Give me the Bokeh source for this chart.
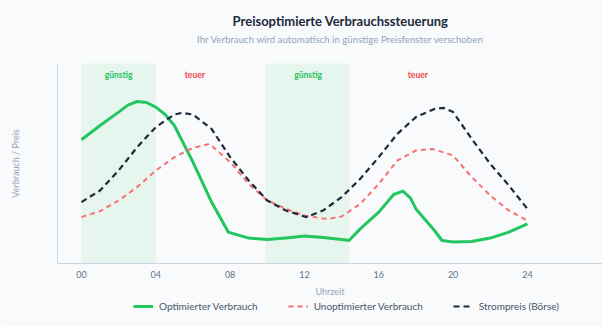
from bokeh.plotting import figure
from bokeh.models import Legend, LegendItem, Range1d, FixedTicker
from bokeh.core.properties import value
from bokeh.embed import file_html
from bokeh.resources import INLINE

# ---- data ----
tick_hours = [0, 4, 8, 12, 16, 20, 24]
tick_labels = ["00", "04", "08", "12", "16", "20", "24"]

opt_x = [0, 1, 2, 2.5, 3, 3.5, 4, 4.5, 5, 6, 7, 7.9, 9, 10, 11, 12, 13, 14, 14.4, 15, 16, 16.8, 17.3, 17.7, 18, 19, 19.4, 20, 21, 22, 23, 24]
opt_y = [61.9, 69, 75.7, 79.2, 81, 80.5, 78.2, 74.5, 69, 50.7, 30.7, 15.7, 12.7, 12, 12.8, 13.8, 13, 12, 11.5, 17.3, 25.7, 34.5, 36.2, 32.8, 27.3, 16.5, 11.5, 10.7, 11, 12.7, 15.7, 19.8]

unopt_x = [0, 1, 2, 3, 4, 5, 6, 6.9, 8, 9, 10, 11, 12, 13, 13.3, 14, 15, 16, 17, 18, 18.8, 19, 20, 21, 22, 23, 24]
unopt_y = [23.2, 26.2, 31.5, 38.2, 46.5, 53.2, 57.8, 59.8, 50.7, 39.8, 31.5, 27.3, 24, 22.5, 22.3, 23.5, 29.8, 39.8, 51.5, 56.5, 57.2, 57, 54, 43.2, 34, 26.5, 21.5]

price_x = [0, 1, 2, 3, 4, 5, 5.4, 6, 7, 8, 9, 10, 11, 12, 12.1, 13, 14, 15, 16, 17, 18, 19, 19.5, 20, 21, 22, 23, 24]
price_y = [30.7, 36.5, 46.5, 58.2, 68.2, 74.5, 75.3, 74.5, 67.3, 53.2, 41.5, 31.5, 26.5, 23.5, 23.2, 26.5, 33.2, 42.3, 53.2, 64.8, 73.2, 77.3, 77.8, 75.7, 62.3, 49.8, 39, 27.3]

cheap_start = [0, 9.9]
cheap_end = [4, 14.4]
zone_labels = ["günstig", "teuer", "günstig", "teuer"]
zone_x = [2, 6.1, 12.2, 18.1]
zone_kind = ["cheap", "expensive", "cheap", "expensive"]

series_names = ["Optimierter Verbrauch", "Unoptimierter Verbrauch", "Strompreis (Börse)"]
title_text = "Preisoptimierte Verbrauchssteuerung"
subtitle_text = "Ihr Verbrauch wird automatisch in günstige Preisfenster verschoben"

FONT = "Lato"
BG = "#f8fafc"
Y_MAX = 100            # top of the plotted value scale
Y_VIEW_TOP = 131.5     # head room in which the titles sit
Y_VIEW_BOTTOM = -31.5  # foot room for axis labels and legend

p = figure(frame_width=545, frame_height=326, x_range=Range1d(-1.29, 28.04),
           y_range=Range1d(Y_VIEW_BOTTOM, Y_VIEW_TOP),
           output_backend="svg", toolbar_location=None,
           min_border_left=57, min_border_right=0, min_border_top=0, min_border_bottom=0,
           background_fill_color=BG, border_fill_color=BG, outline_line_color=None)

p.xgrid.grid_line_color = None
p.ygrid.grid_line_color = None

# cheap windows
p.quad(left=cheap_start, right=cheap_end, bottom=0, top=Y_MAX,
       fill_color="#22c55e", fill_alpha=0.08, line_color=None)

zone_colors = ["#22c55e" if k == "cheap" else "#ef4444" for k in zone_kind]
p.text(x=zone_x, y=[94.5] * 4, text=zone_labels, text_color=zone_colors,
       text_font=value(FONT), text_font_size="8.5px", text_font_style="bold",
       text_align="center", text_baseline="middle")

r_opt = p.line(opt_x, opt_y, line_color="#22c55e", line_width=3, line_join="round")
r_un = p.line(unopt_x, unopt_y, line_color="#f87171", line_width=2, line_dash="5 4")
r_pr = p.line(price_x, price_y, line_color="#1e293b", line_width=2.2, line_dash="6 4")

# titles
p.text(x=[13.94], y=[121.5], text=[title_text], text_color="#1e293b",
       text_font=value(FONT), text_font_size="13px", text_font_style="bold",
       text_align="center", text_baseline="middle")
p.text(x=[13.94], y=[112.5], text=[subtitle_text], text_color="#94a3b8",
       text_font=value(FONT), text_font_size="9.7px",
       text_align="center", text_baseline="middle")

# axes
ax = p.xaxis[0]
ax.fixed_location = 0
ax.bounds = (-1.29, 28.04)
ax.ticker = FixedTicker(ticks=tick_hours)
ax.major_label_overrides = {h: l for h, l in zip(tick_hours, tick_labels)}
ax.axis_line_color = "#cbd5e1"
ax.major_tick_line_color = None
ax.minor_tick_line_color = None
ax.major_tick_out = 0
ax.major_label_standoff = 7
ax.major_label_text_font = FONT
ax.major_label_text_font_size = "9px"
ax.major_label_text_color = "#64748b"
ax.axis_label = "Uhrzeit"
ax.axis_label_text_font = FONT
ax.axis_label_text_font_size = "9px"
ax.axis_label_text_font_style = "normal"
ax.axis_label_text_color = "#94a3b8"
ax.axis_label_standoff = 5

ay = p.yaxis[0]
ay.bounds = (0, Y_MAX)
ay.ticker = FixedTicker(ticks=[])
ay.axis_line_color = "#cbd5e1"
ay.major_tick_line_color = None
ay.minor_tick_line_color = None
ay.major_label_text_font_size = "0px"
ay.axis_label = "Verbrauch / Preis"
ay.axis_label_text_font = FONT
ay.axis_label_text_font_size = "9px"
ay.axis_label_text_font_style = "normal"
ay.axis_label_text_color = "#94a3b8"
ay.axis_label_standoff = 37

legend = Legend(items=[LegendItem(label=series_names[0], renderers=[r_opt]),
                       LegendItem(label=series_names[1], renderers=[r_un]),
                       LegendItem(label=series_names[2], renderers=[r_pr])],
                orientation="horizontal", location=(76, 14),
                background_fill_alpha=0, border_line_color=None,
                label_text_font=FONT, label_text_font_size="10px", label_text_color="#475569",
                glyph_width=20, glyph_height=10, label_height=12, label_standoff=6, spacing=30,
                padding=0, margin=0)
p.add_layout(legend, "center")

open("out.html", "w").write(file_html(p, INLINE))
